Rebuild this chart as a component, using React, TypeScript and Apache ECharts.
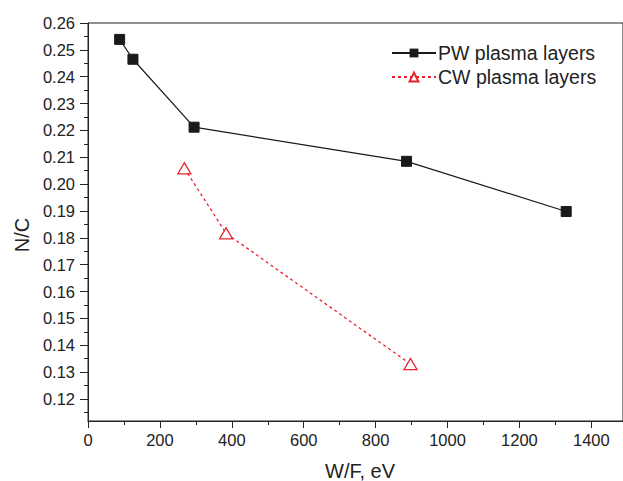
import React, { useEffect, useRef } from "react";
import * as echarts from "echarts";

const pwName = "PW plasma layers";
const cwName = "CW plasma layers";
const pwX = [88, 125, 295, 886, 1330];
const pwY = [0.2539, 0.2465, 0.2212, 0.2085, 0.1898];
const cwX = [268, 384, 897];
const cwY = [0.2059, 0.1817, 0.133];
const xTicks = [0, 200, 400, 600, 800, 1000, 1200, 1400];
const xMinorTicks = [100, 300, 500, 700, 900, 1100, 1300];
const yTicks = [0.12, 0.13, 0.14, 0.15, 0.16, 0.17, 0.18, 0.19, 0.2, 0.21, 0.22, 0.23, 0.24, 0.25, 0.26];
const yMinorTicks = [0.115, 0.125, 0.135, 0.145, 0.155, 0.165, 0.175, 0.185, 0.195, 0.205, 0.215, 0.225, 0.235, 0.245, 0.255];
const xTitle = "W/F, eV";
const yTitle = "N/C";

const FONT = "'Liberation Sans', Arial, Helvetica, sans-serif";
const AXIS = "#222";
const RED = "#e8232d";
const BLACK = "#1a1a1a";

export default function App() {
  const ref = useRef<HTMLDivElement>(null);
  useEffect(() => {
    if (!ref.current) return;
    const chart = echarts.init(ref.current, undefined, { renderer: "svg" });
    const xMin = 0, xMax = 1488, yMin = 0.1118, yMax = 0.26;
    const baseX = {
      type: "value" as const,
      min: xMin,
      max: xMax,
      position: "bottom" as const,
      splitLine: { show: false },
    };
    const baseY = {
      type: "value" as const,
      min: yMin,
      max: yMax,
      position: "left" as const,
      splitLine: { show: false },
    };
    chart.setOption({
      animation: false,
      textStyle: { fontFamily: FONT },
      grid: {
        left: 88,
        top: 23,
        right: -5,
        bottom: 60,
        show: true,
        borderColor: AXIS,
        borderWidth: 1,
        backgroundColor: "transparent",
      },
      xAxis: [
        {
          ...baseX,
          axisLine: { show: true, lineStyle: { color: AXIS, width: 1 } },
          axisTick: { show: true, customValues: xTicks, length: 7, inside: false, lineStyle: { color: AXIS } },
          axisLabel: {
            show: true,
            customValues: xTicks,
            margin: 10,
            fontSize: 16.5,
            color: AXIS,
            fontFamily: FONT,
            formatter: (v: number) => String(Math.round(v)),
          },
        },
        {
          ...baseX,
          axisLine: { show: false },
          axisTick: { show: true, customValues: xMinorTicks, length: 4, inside: false, lineStyle: { color: AXIS } },
          axisLabel: { show: false },
        },
      ],
      yAxis: [
        {
          ...baseY,
          axisLine: { show: true, lineStyle: { color: AXIS, width: 1 } },
          axisTick: { show: true, customValues: yTicks, length: 8, inside: false, lineStyle: { color: AXIS } },
          axisLabel: {
            show: true,
            customValues: yTicks,
            margin: 13,
            fontSize: 16.5,
            color: AXIS,
            fontFamily: FONT,
            formatter: (v: number) => v.toFixed(2),
          },
        },
        {
          ...baseY,
          axisLine: { show: false },
          axisTick: { show: true, customValues: yMinorTicks, length: 4, inside: false, lineStyle: { color: AXIS } },
          axisLabel: { show: false },
        },
      ],
      legend: {
        orient: "vertical",
        left: 386,
        top: 38,
        itemWidth: 44,
        itemHeight: 11,
        itemGap: 4,
        textStyle: { fontSize: 19.5, color: AXIS, fontFamily: FONT, padding: [0, 0, 0, -3] },
        data: [pwName, cwName],
      },
      graphic: [
        {
          type: "text",
          x: 360,
          y: 471,
          style: {
            text: xTitle,
            fontSize: 20,
            fontFamily: FONT,
            fill: AXIS,
            align: "center",
            verticalAlign: "middle",
          },
        },
        {
          type: "text",
          x: 22,
          y: 235,
          rotation: Math.PI / 2,
          style: {
            text: yTitle,
            fontSize: 20,
            fontFamily: FONT,
            fill: AXIS,
            align: "center",
            verticalAlign: "middle",
          },
        },
      ],
      series: [
        {
          name: pwName,
          type: "line",
          xAxisIndex: 0,
          yAxisIndex: 0,
          data: pwX.map((x, i) => [x, pwY[i]]),
          symbol: "rect",
          symbolSize: 10,
          showAllSymbol: true,
          itemStyle: { color: BLACK, borderColor: BLACK },
          lineStyle: { color: BLACK, width: 1.2 },
        },
        {
          name: cwName,
          type: "line",
          xAxisIndex: 0,
          yAxisIndex: 0,
          data: cwX.map((x, i) => [x, cwY[i]]),
          symbol: "triangle",
          symbolSize: [13, 11],
          showAllSymbol: true,
          itemStyle: { color: "#ffffff", borderColor: RED, borderWidth: 1.3 },
          lineStyle: { color: RED, width: 1.3, type: [3, 3] },
        },
      ],
    });
    return () => chart.dispose();
  }, []);
  return (
    <div
      ref={ref}
      style={{ position: "absolute", left: 0, top: 0, width: 623, height: 481 }}
    />
  );
}
